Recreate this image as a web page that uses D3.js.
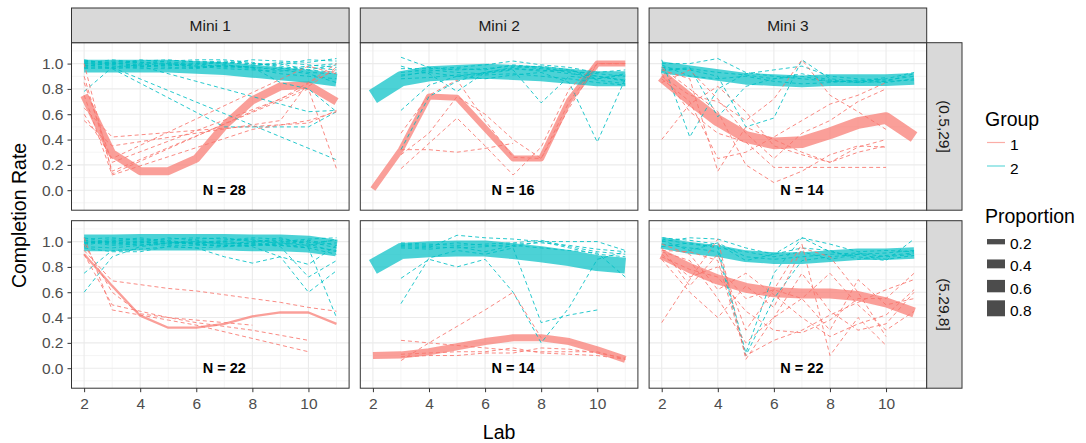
<!DOCTYPE html>
<html>
<head>
<meta charset="utf-8">
<script src="https://cdn.jsdelivr.net/npm/d3@7"></script>
<style>
  body { margin: 0; background: #fff; }
  svg text { font-family: "Liberation Sans", Arial, sans-serif; }
</style>
</head>
<body>
<svg id="chart" width="1086" height="443"></svg>
<script>
// ---- data ----
const labs = [2, 3, 4, 5, 6, 7, 8, 9, 10, 11]
const miniNames = ['Mini 1', 'Mini 2', 'Mini 3']
const bins = ['(0.5,29]', '(5.29,8]']
const groups = ['1', '2']
const propBreaks = [0.2, 0.4, 0.6, 0.8]
const yTicks = [0, 0.2, 0.4, 0.6, 0.8, 1.0]
const xTicks = [2, 4, 6, 8, 10]

// panels in row order: top Mini1..3, bottom Mini1..3
const panelN = [28, 16, 14, 22, 14, 22]

const meanGroup1 = [
  [0.75, 0.29, 0.15, 0.15, 0.25, 0.51, 0.71, 0.82, 0.83, 0.70],
  [0.01, 0.32, 0.74, 0.73, 0.49, 0.25, 0.25, 0.71, 1.00, 1.00],
  [0.90, 0.72, 0.55, 0.42, 0.37, 0.38, 0.45, 0.53, 0.57, 0.42],
  [0.90, 0.65, 0.415, 0.32, 0.32, 0.35, 0.41, 0.44, 0.44, 0.35],
  [0.10, 0.105, 0.13, 0.17, 0.21, 0.24, 0.24, 0.21, 0.145, 0.07],
  [0.90, 0.79, 0.70, 0.635, 0.60, 0.59, 0.59, 0.57, 0.52, 0.44]
]
const meanGroup2 = [
  [0.98, 0.98, 0.98, 0.98, 0.97, 0.96, 0.94, 0.92, 0.90, 0.87],
  [0.74, 0.88, 0.92, 0.93, 0.94, 0.93, 0.92, 0.90, 0.88, 0.88],
  [0.97, 0.94, 0.91, 0.88, 0.87, 0.86, 0.87, 0.87, 0.87, 0.88],
  [0.99, 0.99, 0.995, 0.995, 0.995, 0.995, 0.99, 0.99, 0.98, 0.95],
  [0.80, 0.925, 0.94, 0.945, 0.945, 0.925, 0.90, 0.87, 0.83, 0.81],
  [0.99, 0.95, 0.925, 0.885, 0.87, 0.87, 0.885, 0.90, 0.90, 0.91]
]
const propGroup1 = [0.35, 0.24, 0.56, 0.03, 0.30, 0.46]
const propGroup2 = [0.63, 0.75, 0.56, 0.84, 0.80, 0.56]

// individual students: [group, values at labs 2..11] (null = no record)
const studentsMini1Low = [
  ['2', [1.02, 1.01, 1.02, 1.03, 1.01, 1.02, 1.00, 0.99, 1.03, 1.02]],
  ['2', [0.98, 1.00, 0.99, 0.98, 1.00, 0.97, 0.98, 1.01, 0.99, 0.97]],
  ['2', [0.96, 0.97, 0.98, 0.97, 0.96, 0.99, 0.97, 0.96, 0.98, 1.00]],
  ['2', [1.00, 1.03, 1.01, 1.00, 1.02, 1.00, 1.03, 1.02, 1.01, 1.04]],
  ['2', [0.99, 0.96, 0.97, 0.99, 0.98, 0.96, 0.95, 0.94, 0.97, 0.95]],
  ['2', [1.03, 0.99, 1.03, 1.01, 0.99, 1.01, 0.99, 1.00, 0.95, 0.99]],
  ['2', [0.97, 1.02, 1.00, 1.02, 1.03, 1.03, 1.01, 0.97, 0.93, 0.92]],
  ['2', [1.01, 0.98, 0.96, 0.96, 0.97, 0.98, 0.96, 0.92, 0.90, 0.88]],
  ['2', [0.78, 0.97, 0.99, 1.00, 0.98, 0.99, 0.97, 0.95, 0.92, 0.85]],
  ['2', [0.97, 0.96, null, null, null, 0.50, null, null, 0.50, 0.62]],
  ['2', [0.99, 0.97, null, null, null, null, null, null, null, 0.24]],
  ['2', [1.00, 0.99, 0.98, 0.99, 0.97, 0.98, 0.97, 0.85, 0.80, 0.62]],
  ['2', [0.98, 1.01, 0.98, null, null, null, null, null, 0.62, 0.63]],
  ['2', [1.02, 1.00, 1.01, 0.99, 1.00, 1.01, 1.00, 0.98, 0.95, 0.93]],
  ['1', [1.00, 0.13, null, null, null, null, null, null, 0.82, 0.97]],
  ['1', [0.65, 0.42, null, null, null, 0.49, null, null, 0.53, 0.63]],
  ['1', [0.90, 0.15, null, null, null, null, null, null, 0.80, 0.17]],
  ['1', [0.85, 0.22, null, null, null, null, null, 0.72, 0.85, 0.95]],
  ['1', [0.55, 0.35, null, null, null, null, null, 0.55, 0.85, 1.00]],
  ['1', [0.75, 0.12, null, null, null, null, 0.48, null, 0.55, 0.62]],
  ['1', [0.60, 0.25, null, null, null, null, null, null, 0.98, 0.92]]
]
const studentsMini2Low = [
  ['2', [null, 1.05, 0.97, 0.95, 0.96, 0.98, 0.96, 0.94, 0.92, 0.90]],
  ['2', [null, 0.93, 0.95, 0.93, 0.92, 0.95, 0.69, 0.90, 0.88, 0.92]],
  ['2', [null, 0.91, 0.93, 0.90, 0.88, 0.91, 0.93, 0.85, 0.38, 0.88]],
  ['2', [null, 0.63, 0.83, 0.90, 0.93, 0.96, 0.95, 0.92, 0.90, 0.87]],
  ['2', [null, 0.32, 0.74, 0.86, 0.93, 0.97, 0.98, 0.95, 0.90, 0.86]],
  ['2', [null, 0.96, 0.96, 0.97, 0.99, 1.02, 0.99, 0.97, 0.93, 0.95]],
  ['2', [null, 0.88, 0.89, 0.91, 0.91, 0.92, 0.90, 0.88, 0.85, 0.83]],
  ['2', [null, 0.98, 0.92, 0.78, 0.93, 0.96, 0.94, 0.95, 0.88, 0.91]],
  ['2', [null, 0.90, 0.94, 0.96, 0.95, 0.99, 0.97, 0.93, 0.87, 0.84]],
  ['1', [null, 0.32, 0.32, 0.30, 0.33, 0.37, null, null, null, null]],
  ['1', [null, 0.17, 0.37, 0.57, 0.35, 0.12, 0.34, 0.80, 1.00, 1.00]],
  ['1', [null, 0.45, 0.75, 0.87, 0.55, 0.26, 0.25, 0.70, 1.00, 1.00]],
  ['1', [null, 0.28, 0.45, 0.74, 0.60, 0.40, 0.25, 0.65, 1.00, 1.00]]
]
const studentsMini3Low = [
  ['2', [1.03, 0.42, 0.80, 0.92, 0.95, 0.98, 0.90, 0.88, 0.87, 0.90]],
  ['2', [1.00, 1.00, 1.04, 0.93, 0.90, 0.88, 0.86, 0.85, 0.86, 0.92]],
  ['2', [0.97, 0.95, 0.90, 0.50, 0.57, 1.03, 0.88, 0.86, 0.89, null]],
  ['2', [0.95, 0.96, 0.93, 0.91, 0.88, 0.92, 0.87, 0.85, 0.88, 0.93]],
  ['2', [0.99, 0.90, 0.88, 0.90, 0.86, 0.84, 0.85, 0.87, 0.86, 0.87]],
  ['2', [0.94, 0.97, 0.58, 0.82, 0.88, 0.90, 0.86, 0.86, 0.85, 0.88]],
  ['1', [0.40, 0.68, 0.82, 0.62, 0.35, 0.28, 0.22, 0.34, 0.40, null]],
  ['1', [0.95, 0.88, 0.15, 0.50, 0.40, 0.30, 0.22, 0.30, 0.35, null]],
  ['1', [0.92, 0.62, 0.45, 0.38, 0.18, 0.18, 0.18, 0.18, 0.18, null]],
  ['1', [0.97, 0.80, 0.62, 0.20, 0.06, 0.15, 0.28, 0.35, 0.34, null]],
  ['1', [0.90, 0.75, 0.70, 0.55, 0.72, 1.03, 0.75, 0.62, 0.48, null]],
  ['1', [0.85, 0.95, 0.72, 0.45, 0.25, 0.45, 0.55, 0.70, 0.80, null]],
  ['1', [0.88, 0.70, 0.25, 0.30, 0.42, 0.55, 0.68, 0.75, 0.85, null]]
]
const studentsMini1High = [
  ['2', [1.02, 1.03, 1.01, 1.02, 1.03, 1.02, 1.01, 1.00, 1.02, 1.03]],
  ['2', [0.99, 1.00, 1.03, 1.00, 0.99, 1.01, 1.03, 1.02, 0.99, 1.01]],
  ['2', [1.01, 0.98, 0.99, 1.03, 1.01, 0.99, 0.98, 0.99, 1.01, 0.97]],
  ['2', [0.97, 1.01, 1.00, 0.98, 1.02, 1.03, 1.00, 1.01, 0.97, 0.99]],
  ['2', [1.03, 0.99, 0.97, 1.01, 0.98, 1.00, 1.02, 0.98, 1.00, 0.95]],
  ['2', [0.98, 1.02, 1.02, 0.99, 1.00, 0.98, 0.99, 1.03, 0.98, 0.92]],
  ['2', [1.00, 0.97, 0.98, 0.97, 0.97, 0.97, 0.97, 0.97, 0.95, 0.90]],
  ['2', [0.60, 0.88, 0.96, 0.99, 1.00, 0.98, 1.00, 0.99, 0.97, 1.02]],
  ['2', [0.75, 0.93, 0.94, 0.96, 0.95, 0.96, 0.97, 0.98, 0.96, 0.93]],
  ['2', [0.95, 0.92, 0.92, 0.96, 0.95, 0.88, 0.83, 0.88, 0.82, 0.97]],
  ['2', [0.99, 1.00, 0.99, 1.00, 0.98, 0.97, 0.96, 0.88, 0.60, 0.77]],
  ['2', [1.01, 0.99, 1.00, 0.98, 0.99, 1.00, 0.98, 0.97, 0.95, 0.40]],
  ['2', [0.96, 0.95, 0.97, 0.99, 0.98, 0.96, 0.99, 0.96, 0.72, 0.85]],
  ['1', [1.03, 0.46, 0.42, 0.38, 0.34, null, null, null, 0.13, null]],
  ['1', [0.93, 0.69, 0.66, 0.63, 0.61, 0.58, 0.55, 0.52, 0.48, 0.45]],
  ['1', [0.90, 0.50, 0.45, 0.40, 0.36, 0.33, 0.30, 0.26, 0.22, null]],
  ['1', [0.98, 0.60, 0.43, 0.40, 0.38, 0.36, 0.34, null, null, null]]
]
const studentsMini2High = [
  ['2', [null, 0.98, 0.97, 0.99, 0.97, 0.96, 1.00, 0.95, 0.90, 0.88]],
  ['2', [null, 0.96, 0.95, 1.05, 1.03, 1.02, 1.00, 1.00, 1.00, 0.93]],
  ['2', [null, 0.71, 0.86, 0.80, 0.86, 0.60, 0.20, 0.48, 0.86, 0.92]],
  ['2', [null, 0.51, 0.87, 0.93, 0.90, 0.95, 0.36, 0.42, 0.46, null]],
  ['2', [null, 0.95, 0.94, 0.96, 0.92, 0.97, 0.95, 0.93, 0.91, 0.72]],
  ['2', [null, 0.99, 0.98, 0.97, 0.98, 0.99, 1.01, 0.96, 0.92, 0.90]],
  ['2', [null, 0.97, 0.96, 0.95, 0.96, 0.98, 0.99, 0.97, 0.94, 0.92]],
  ['1', [null, 0.06, 0.20, 0.33, 0.46, 0.60, 0.24, null, null, null]],
  ['1', [null, 0.22, 0.20, 0.18, 0.16, 0.14, 0.13, 0.13, 0.13, 0.07]],
  ['1', [null, 0.11, 0.12, 0.13, 0.13, 0.16, 0.12, 0.11, 0.10, 0.07]],
  ['1', [null, 0.09, 0.10, 0.10, 0.12, 0.12, 0.16, 0.15, 0.12, 0.08]]
]
const studentsMini3High = [
  ['2', [1.02, 0.98, 0.96, 0.12, 0.75, 1.03, 0.92, 0.88, 0.85, 1.02]],
  ['2', [1.00, 1.03, 1.02, 0.95, 0.90, 1.03, 0.98, 0.92, 0.93, 0.92]],
  ['2', [0.98, 0.95, 0.92, 0.10, 0.55, 0.85, 0.88, 0.90, 0.86, 0.89]],
  ['2', [1.01, 0.93, 0.99, 0.88, 0.86, 0.88, 0.90, 0.91, 0.88, 0.90]],
  ['2', [0.96, 0.99, 0.95, 0.92, 0.88, 0.92, 0.86, 0.90, 0.91, 0.93]],
  ['2', [1.03, 1.01, 0.98, 0.85, 0.90, 0.95, 0.93, 0.86, 0.89, 0.91]],
  ['1', [0.36, 0.70, 1.02, 0.07, 0.40, 0.75, 0.45, 0.30, 0.35, 0.60]],
  ['1', [0.95, 0.65, 0.90, 0.30, 0.62, 0.98, 0.10, 0.40, 0.18, null]],
  ['1', [0.92, 0.85, 0.55, 0.20, 0.40, 0.55, 0.75, 0.50, 0.30, 0.45]],
  ['1', [0.88, 0.78, 0.72, 0.45, 0.30, 0.28, 0.38, 0.55, 0.55, 0.75]],
  ['1', [0.98, 0.90, 0.62, 0.75, 0.58, 0.40, 0.25, 0.35, 0.42, 0.62]],
  ['1', [0.86, 0.60, 0.40, 0.65, 0.48, 0.95, 0.88, 0.60, 0.25, null]],
  ['1', [0.93, 0.92, 0.85, 0.10, 0.22, 0.30, 0.42, 0.52, 0.62, 0.70]],
  ['1', [0.90, 0.72, 0.80, 0.55, 0.62, 0.55, 0.30, 0.70, 0.50, 0.55]]
]
const students = [studentsMini1Low, studentsMini2Low, studentsMini3Low,
                  studentsMini1High, studentsMini2High, studentsMini3High]

// ---- layout ----
const svg = d3.select('#chart')
const panelLeft = [71.5, 360.3, 649.1]
const panelTop = [42.7, 220.7]
const pw = 277.6, ph = 167.5
const stripH = 34.7, stripW = 35.3

const x = d3.scaleLinear().domain([1.55, 11.45]).range([0, pw])
const y = d3.scaleLinear().domain([-0.158, 1.165]).range([ph, 0])
const color = d3.scaleOrdinal(groups, ['#F8766D', '#00BFC4'])
const size = d3.scaleLinear().domain([0, 1]).range([1.74, 19.54])

const toPoints = vals => labs.map((l, k) => [l, vals[k]]).filter(p => p[1] != null)
const line = d3.line().x(d => x(d[0])).y(d => y(d[1]))

const yMinor = d3.range(-0.1, 1.15, 0.2)
const xMinor = [3, 5, 7, 9, 11]

for (let i = 0; i < 6; i++) {
  const r = Math.floor(i / 3), c = i % 3
  const g = svg.append('g').attr('transform', `translate(${panelLeft[c]},${panelTop[r]})`)

  g.append('clipPath').attr('id', 'clip' + i)
    .append('rect').attr('width', pw).attr('height', ph)

  g.append('rect').attr('width', pw).attr('height', ph).attr('fill', '#fff')

  // grid
  const grid = g.append('g')
  grid.selectAll('.ymin').data(yMinor).enter().append('line')
    .attr('x1', 0).attr('x2', pw).attr('y1', d => y(d)).attr('y2', d => y(d))
    .attr('stroke', '#F2F2F2').attr('stroke-width', 0.8)
  grid.selectAll('.xmin').data(xMinor).enter().append('line')
    .attr('y1', 0).attr('y2', ph).attr('x1', d => x(d)).attr('x2', d => x(d))
    .attr('stroke', '#F2F2F2').attr('stroke-width', 0.8)
  grid.selectAll('.ymaj').data(yTicks).enter().append('line')
    .attr('x1', 0).attr('x2', pw).attr('y1', d => y(d)).attr('y2', d => y(d))
    .attr('stroke', '#EBEBEB').attr('stroke-width', 1.1)
  grid.selectAll('.xmaj').data(xTicks).enter().append('line')
    .attr('y1', 0).attr('y2', ph).attr('x1', d => x(d)).attr('x2', d => x(d))
    .attr('stroke', '#EBEBEB').attr('stroke-width', 1.1)

  const marks = g.append('g').attr('clip-path', `url(#clip${i})`)

  // group mean lines, width by proportion
  const means = [[ '1', meanGroup1[i], propGroup1[i]], ['2', meanGroup2[i], propGroup2[i]]]
  marks.selectAll('.mean').data(means).enter().append('path')
    .attr('d', d => line(toPoints(d[1])))
    .attr('fill', 'none')
    .attr('stroke', d => color(d[0]))
    .attr('stroke-opacity', 0.7)
    .attr('stroke-width', d => size(d[2]))
    .attr('stroke-linejoin', 'round')
    .attr('stroke-linecap', 'butt')

  // individual students, dashed
  marks.selectAll('.stu').data(students[i]).enter().append('path')
    .attr('d', d => line(toPoints(d[1])))
    .attr('fill', 'none')
    .attr('stroke', d => color(d[0]))
    .attr('stroke-opacity', 0.85)
    .attr('stroke-width', 1)
    .attr('stroke-dasharray', '4,3')

  g.append('text')
    .attr('x', x(7)).attr('y', y(0))
    .attr('text-anchor', 'middle').attr('dominant-baseline', 'central')
    .attr('font-size', '14.5px').attr('font-weight', 'bold').attr('fill', '#000')
    .text(`N = ${panelN[i]}`)

  g.append('rect').attr('width', pw).attr('height', ph)
    .attr('fill', 'none').attr('stroke', '#333').attr('stroke-width', 1)

  // axes
  if (c === 0) {
    const ax = g.append('g').call(d3.axisLeft(y).tickValues(yTicks)
      .tickFormat(d3.format('.1f')).tickSize(4).tickPadding(4))
    ax.select('.domain').remove()
    ax.selectAll('line').attr('stroke', '#333')
    ax.selectAll('text').attr('fill', '#4D4D4D').attr('font-size', '15.5px')
      .style('font-family', '"Liberation Sans", Arial, sans-serif')
  }
  if (r === 1) {
    const ax = g.append('g').attr('transform', `translate(0,${ph})`)
      .call(d3.axisBottom(x).tickValues(xTicks).tickSize(4).tickPadding(6))
    ax.select('.domain').remove()
    ax.selectAll('line').attr('stroke', '#333')
    ax.selectAll('text').attr('fill', '#4D4D4D').attr('font-size', '15.5px')
      .style('font-family', '"Liberation Sans", Arial, sans-serif')
  }
}

// strips on top
miniNames.forEach((m, c) => {
  const s = svg.append('g').attr('transform', `translate(${panelLeft[c]},${panelTop[0] - stripH})`)
  s.append('rect').attr('width', pw).attr('height', stripH)
    .attr('fill', '#D9D9D9').attr('stroke', '#333').attr('stroke-width', 1)
  s.append('text').attr('x', pw / 2).attr('y', stripH / 2)
    .attr('text-anchor', 'middle').attr('dominant-baseline', 'central')
    .attr('font-size', '15.5px').attr('fill', '#1A1A1A').text(m)
})
// strips on the right
bins.forEach((b, r) => {
  const sx = panelLeft[2] + pw
  const s = svg.append('g').attr('transform', `translate(${sx},${panelTop[r]})`)
  s.append('rect').attr('width', stripW).attr('height', ph)
    .attr('fill', '#D9D9D9').attr('stroke', '#333').attr('stroke-width', 1)
  s.append('text').attr('transform', `translate(${stripW / 2},${ph / 2}) rotate(90)`)
    .attr('text-anchor', 'middle').attr('dominant-baseline', 'central')
    .attr('font-size', '15.5px').attr('fill', '#1A1A1A').text(b)
})

// axis titles
svg.append('text').attr('transform', `translate(26,${(panelTop[0] + panelTop[1] + ph) / 2}) rotate(-90)`)
  .attr('text-anchor', 'middle').attr('font-size', '19.5px').attr('fill', '#000')
  .text('Completion Rate')
svg.append('text').attr('x', (panelLeft[0] + panelLeft[2] + pw) / 2).attr('y', 439)
  .attr('text-anchor', 'middle').attr('font-size', '19.5px').attr('fill', '#000')
  .text('Lab')

// legends
const lx = 985
svg.append('text').attr('x', lx).attr('y', 126).attr('font-size', '19.5px').text('Group')
const gl = svg.selectAll('.gkey').data(groups).enter().append('g')
  .attr('transform', (d, k) => `translate(${lx + 2},${142.5 + k * 23.5})`)
gl.append('line').attr('x1', 0).attr('x2', 18)
  .attr('stroke', d => color(d)).attr('stroke-opacity', 0.6).attr('stroke-width', 1.2)
gl.append('text').attr('x', 23).attr('y', 2).attr('dominant-baseline', 'central')
  .attr('font-size', '15.5px').attr('fill', '#000').text(d => d)

svg.append('text').attr('x', lx).attr('y', 223).attr('font-size', '19.5px').text('Proportion')
const pl = svg.selectAll('.pkey').data(propBreaks).enter().append('g')
  .attr('transform', (d, k) => `translate(${lx + 2},${241.7 + k * 22.2})`)
pl.append('line').attr('x1', 0).attr('x2', 18)
  .attr('stroke', '#000').attr('stroke-opacity', 0.7).attr('stroke-width', d => size(d))
pl.append('text').attr('x', 23).attr('y', 2).attr('dominant-baseline', 'central')
  .attr('font-size', '15.5px').attr('fill', '#000').text(d => d.toFixed(1))
</script>
</body>
</html>
